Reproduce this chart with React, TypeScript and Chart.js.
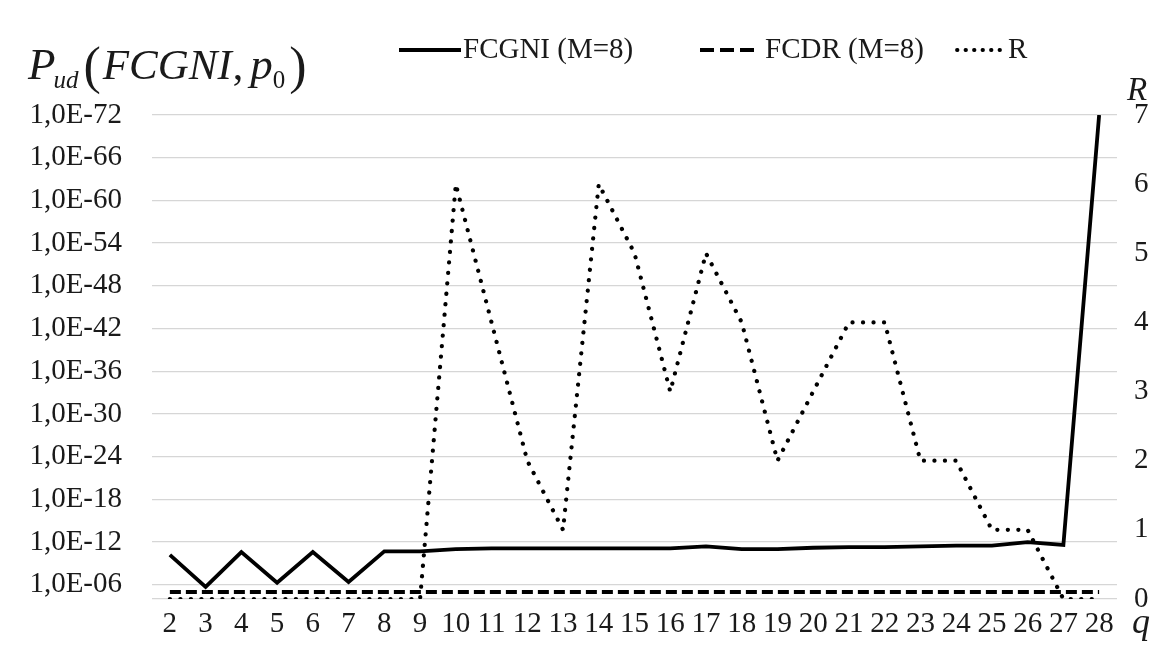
import React, { useEffect, useRef } from 'react';
import { Chart, registerables } from 'chart.js';

Chart.register(...registerables);

// q values (categories)
const categories = ['2', '3', '4', '5', '6', '7', '8', '9', '10', '11', '12', '13', '14', '15', '16', '17', '18', '19', '20', '21', '22', '23', '24', '25', '26', '27', '28'];

// Exponent k of P_ud = 1,0E-k (left axis)
const fcgniExp = [10.2, 5.7, 10.6, 6.3, 10.6, 6.4, 10.7, 10.7, 11.0, 11.1, 11.1, 11.1, 11.1, 11.1, 11.1, 11.4, 11.0, 11.0, 11.2, 11.3, 11.3, 11.4, 11.5, 11.5, 12.0, 11.6, 72];
const fcdrExp = [5.0, 5.0, 5.0, 5.0, 5.0, 5.0, 5.0, 5.0, 5.0, 5.0, 5.0, 5.0, 5.0, 5.0, 5.0, 5.0, 5.0, 5.0, 5.0, 5.0, 5.0, 5.0, 5.0, 5.0, 5.0, 5.0, 5.0];
// R (right axis)
const rValues = [0, 0, 0, 0, 0, 0, 0, 0, 6, 4, 2, 1, 6, 5, 3, 5, 4, 2, 3, 4, 4, 2, 2, 1, 1, 0, 0];

// left axis tick exponents
const leftAxisMin = 4;
const leftAxisMax = 72;
const leftTickExps = [6, 12, 18, 24, 30, 36, 42, 48, 54, 60, 66, 72];
const rightAxisMin = 0;
const rightAxisMax = 7;

const seriesNames = ['FCGNI (M=8)', 'FCDR (M=8)', 'R'];

const SERIF = "'Liberation Serif', 'Times New Roman', serif";
const TXT = '#1a1a1a';

const W = 1163;
const H = 648;

const overlayPlugin = {
  id: 'overlay',
  afterDraw(chart: any) {
    const ctx = chart.ctx as CanvasRenderingContext2D;
    ctx.save();
    ctx.fillStyle = TXT;
    ctx.textBaseline = 'alphabetic';
    ctx.textAlign = 'left';

    // Title: P_ud(FCGNI, p_0)
    let x = 28;
    const base = 79;
    const put = (t: string, font: string, dy: number, gapAfter: number) => {
      ctx.font = font;
      ctx.fillText(t, x, base + dy);
      x += ctx.measureText(t).width + gapAfter;
    };
    put('P', `italic 45px ${SERIF}`, 0, -2);
    put('ud', `italic 25px ${SERIF}`, 9, 5);
    put('(', `normal 52px ${SERIF}`, 4, 2);
    put('FCGNI', `italic 43px ${SERIF}`, 0, 1);
    put(',', `normal 42px ${SERIF}`, 0, 7);
    put('p', `italic 45px ${SERIF}`, 0, 0);
    put('0', `normal 25px ${SERIF}`, 9, 4);
    put(')', `normal 52px ${SERIF}`, 4, 0);

    // Legend
    const ly = 50;
    const legendFont = `normal 29px ${SERIF}`;
    const items = [
      { x0: 399, x1: 461, dash: [] as number[], cap: 'butt' as CanvasLineCap, w: 4, tx: 463 },
      { x0: 700, x1: 758, dash: [14, 6], cap: 'butt' as CanvasLineCap, w: 4, tx: 765 },
      { x0: 957, x1: 1001, dash: [0.5, 8], cap: 'round' as CanvasLineCap, w: 3.8, tx: 1008 },
    ];
    items.forEach((it, i) => {
      ctx.beginPath();
      ctx.setLineDash(it.dash);
      ctx.lineCap = it.cap;
      ctx.lineWidth = it.w;
      ctx.strokeStyle = '#000';
      ctx.moveTo(it.x0, ly);
      ctx.lineTo(it.x1, ly);
      ctx.stroke();
      ctx.setLineDash([]);
      ctx.font = legendFont;
      ctx.textBaseline = 'middle';
      ctx.fillText(seriesNames[i], it.tx, ly);
    });

    // Axis titles
    ctx.textBaseline = 'alphabetic';
    ctx.font = `italic 33px ${SERIF}`;
    ctx.fillText('R', 1127, 100);
    ctx.font = `italic 36px ${SERIF}`;
    ctx.fillText('q', 1132, 633);
    ctx.restore();
  },
};

export default function App() {
  const ref = useRef<HTMLCanvasElement | null>(null);

  useEffect(() => {
    if (!ref.current) return;
    const tickFont = { family: SERIF, size: 29 };
    const chart = new Chart(ref.current, {
      type: 'line',
      data: {
        labels: categories,
        datasets: [
          {
            label: seriesNames[0],
            data: fcgniExp,
            yAxisID: 'y',
            borderColor: '#000',
            backgroundColor: '#000',
            borderWidth: 3.8,
            pointRadius: 0,
            tension: 0,
            borderJoinStyle: 'miter',
          },
          {
            label: seriesNames[1],
            data: fcdrExp,
            yAxisID: 'y',
            borderColor: '#000',
            backgroundColor: '#000',
            borderWidth: 4,
            borderDash: [11, 5],
            pointRadius: 0,
            tension: 0,
          },
          {
            label: seriesNames[2],
            data: rValues,
            yAxisID: 'y1',
            borderColor: '#000',
            backgroundColor: '#000',
            borderWidth: 4.2,
            borderDash: [0.1, 10.4],
            borderCapStyle: 'round',
            pointRadius: 0,
            tension: 0,
          },
        ],
      },
      options: {
        responsive: false,
        animation: false,
        devicePixelRatio: 1,
        layout: { padding: { top: 115, left: 0, right: 0, bottom: 0 } },
        plugins: {
          legend: { display: false },
          tooltip: { enabled: false },
          title: { display: false },
        },
        scales: {
          x: {
            type: 'category',
            offset: true,
            grid: { display: false, drawTicks: false },
            border: { display: false },
            ticks: { font: tickFont, color: TXT, padding: 8, maxRotation: 0, autoSkip: false },
            afterFit: (s: any) => { s.height = 49; },
          },
          y: {
            position: 'left',
            min: leftAxisMin,
            max: leftAxisMax,
            afterBuildTicks: (s: any) => {
              s.ticks = [leftAxisMin, ...leftTickExps].map((v) => ({ value: v }));
            },
            ticks: {
              font: tickFont,
              color: TXT,
              padding: 30,
              autoSkip: false,
              callback: (v: any) => (v === leftAxisMin ? '' : '1,0E-' + String(v).padStart(2, '0')),
            },
            grid: { color: '#d6d6d6', lineWidth: 1.3, drawTicks: false },
            border: { display: false },
            afterFit: (s: any) => { s.width = 152; },
          },
          y1: {
            position: 'right',
            min: rightAxisMin,
            max: rightAxisMax,
            ticks: { font: tickFont, color: TXT, padding: 17, stepSize: 1 },
            grid: { display: false, drawTicks: false },
            border: { display: false },
            afterFit: (s: any) => { s.width = W - 1117; },
          },
        },
      },
      plugins: [overlayPlugin],
    } as any);
    return () => chart.destroy();
  }, []);

  return (
    <div style={{ position: 'fixed', left: 0, top: 0, width: W, height: H, background: '#fff' }}>
      <canvas ref={ref} width={W} height={H} style={{ display: 'block', width: W, height: H }} />
    </div>
  );
}
